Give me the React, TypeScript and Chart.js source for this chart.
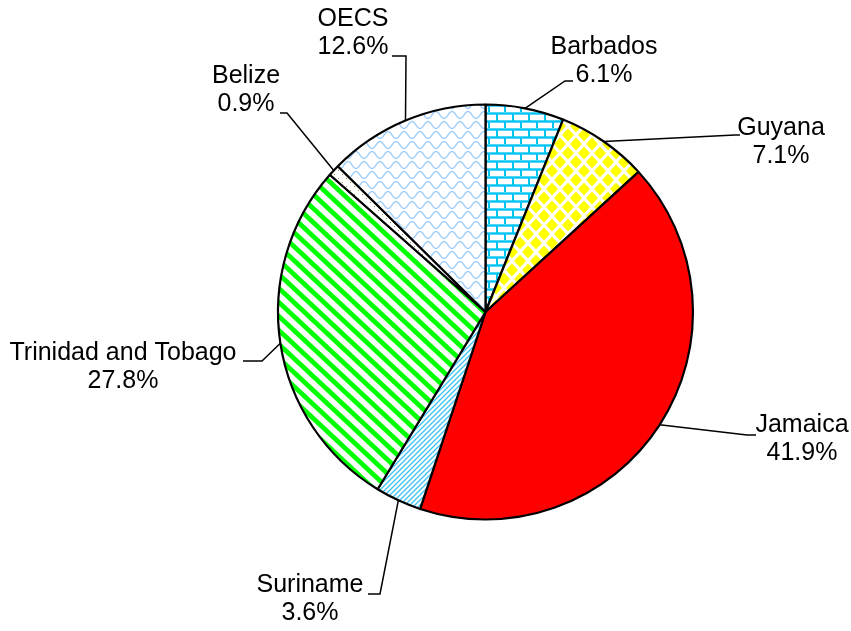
import React, { useEffect, useRef } from "react";
import { Chart, registerables } from "chart.js";

Chart.register(...registerables);

const categories = ["Barbados", "Guyana", "Jamaica", "Suriname", "Trinidad and Tobago", "Belize", "OECS"];
const shares = [6.1, 7.1, 41.9, 3.6, 27.8, 0.9, 12.6];
const percentLabels = ["6.1%", "7.1%", "41.9%", "3.6%", "27.8%", "0.9%", "12.6%"];

// Label layout (offsets from pie centre): text centre, elbow point, end point of leader
const labelLayout = [
  { tx: 118.5, ty: -265, ex: 79.5, ey: -231, lx: 87.5, ly: -231 },
  { tx: 295.5, ty: -184, ex: 249.5, ey: -177, lx: 254.5, ly: -177 },
  { tx: 316.5, ty: 113, ex: 261.5, ey: 123, lx: 270.5, ly: 123 },
  { tx: -175.5, ty: 273, ex: -105.5, ey: 282, lx: -117.5, ly: 282 },
  { tx: -362.5, ty: 41, ex: -223.5, ey: 49, lx: -242.5, ly: 49 },
  { tx: -239.5, ty: -236, ex: -198.5, ey: -199, lx: -205.5, ly: -199 },
  { tx: -132.5, ty: -293, ex: -79.5, ey: -256, lx: -93.5, ly: -256 },
];

function makePattern(w: number, h: number, draw: (c: CanvasRenderingContext2D) => void) {
  const cv = document.createElement("canvas");
  cv.width = w;
  cv.height = h;
  const c = cv.getContext("2d")!;
  c.fillStyle = "#ffffff";
  c.fillRect(0, 0, w, h);
  draw(c);
  const main = document.createElement("canvas").getContext("2d")!;
  return main.createPattern(cv, "repeat")!;
}

function buildFills() {
  const brick = makePattern(16, 16, (c) => {
    c.fillStyle = "#9be4fb";
    c.fillRect(0, 0, 16, 3);
    c.fillRect(0, 8, 16, 3);
    c.fillStyle = "#00c4f4";
    c.fillRect(0, 0.5, 16, 2);
    c.fillRect(0, 8.5, 16, 2);
    c.fillRect(0, 2, 2, 7);
    c.fillRect(8, 10, 2, 7);
  });
  const diamonds = makePattern(16, 18, (c) => {
    c.fillStyle = "#ffff00";
    const d = (x: number, y: number) => {
      c.beginPath();
      c.moveTo(x, y - 6.5);
      c.lineTo(x + 6, y);
      c.lineTo(x, y + 6.5);
      c.lineTo(x - 6, y);
      c.closePath();
      c.fill();
    };
    d(8, 9);
    d(0, 0);
    d(16, 0);
    d(0, 18);
    d(16, 18);
  });
  const fine = makePattern(5, 5, (c) => {
    c.strokeStyle = "#3cc3f5";
    c.lineWidth = 1.3;
    c.beginPath();
    c.moveTo(-1, 6);
    c.lineTo(6, -1);
    c.moveTo(-1, 1);
    c.lineTo(1, -1);
    c.moveTo(4, 6);
    c.lineTo(6, 4);
    c.stroke();
  });
  const stripes = makePattern(15, 14, (c) => {
    c.strokeStyle = "#00ff00";
    c.lineWidth = 4.8;
    c.beginPath();
    for (const [ox, oy] of [[0, 0], [-15, 0], [15, 0], [0, -14], [0, 14]]) {
      c.moveTo(ox - 15, oy - 14);
      c.lineTo(ox + 30, oy + 28);
    }
    c.stroke();
  });
  const dots = makePattern(8, 8, (c) => {
    c.fillStyle = "#a88a2c";
    c.fillRect(2, 2, 1, 1);
    c.fillRect(6, 6, 1, 1);
  });
  const scales = makePattern(16, 20, (c) => {
    c.strokeStyle = "#9fcdfb";
    c.lineWidth = 1.4;
    const row = (y0: number, shift: number) => {
      c.beginPath();
      for (let x = -16; x <= 32; x += 0.5) {
        const y = y0 + 3.5 * Math.sin(((x + shift) / 16) * Math.PI * 2);
        if (x === -16) c.moveTo(x, y);
        else c.lineTo(x, y);
      }
      c.stroke();
    };
    row(5, 0);
    row(15, 8);
    row(-5, 8);
    row(25, 0);
  });
  return [brick, diamonds, "#ff0000", fine, stripes, dots, scales];
}

const labelPlugin = {
  id: "leaderLabels",
  afterDatasetsDraw(chart: any) {
    const ctx: CanvasRenderingContext2D = chart.ctx;
    const meta = chart.getDatasetMeta(0);
    ctx.save();
    meta.data.forEach((arc: any, i: number) => {
      const { x, y, startAngle, endAngle, outerRadius } = arc.getProps(
        ["x", "y", "startAngle", "endAngle", "outerRadius"],
        true
      );
      const mid = (startAngle + endAngle) / 2;
      const px = x + Math.cos(mid) * outerRadius;
      const py = y + Math.sin(mid) * outerRadius;
      const L = labelLayout[i];
      ctx.strokeStyle = "#000000";
      ctx.lineWidth = 1.5;
      ctx.beginPath();
      ctx.moveTo(px, py);
      ctx.lineTo(x + L.ex, y + L.ey);
      ctx.lineTo(x + L.lx, y + L.ly);
      ctx.stroke();
      ctx.fillStyle = "#000000";
      ctx.font = '25px "Liberation Sans", Arial, sans-serif';
      ctx.textAlign = "center";
      ctx.textBaseline = "middle";
      ctx.fillText(categories[i], x + L.tx, y + L.ty);
      ctx.fillText(percentLabels[i], x + L.tx, y + L.ty + 28);
    });
    ctx.restore();
  },
};

export default function App() {
  const ref = useRef<HTMLCanvasElement | null>(null);
  useEffect(() => {
    if (!ref.current) return;
    const chart = new Chart(ref.current, {
      type: "pie",
      data: {
        labels: categories,
        datasets: [
          {
            data: shares,
            backgroundColor: buildFills() as any,
            borderColor: "#000000",
            borderWidth: 2.2,
          },
        ],
      },
      options: {
        responsive: false,
        animation: false,
        devicePixelRatio: 1,
        radius: 207.5,
        layout: { padding: { left: 120, right: 0, top: 0, bottom: 7 } },
        plugins: {
          legend: { display: false },
          tooltip: { enabled: false },
        },
      } as any,
      plugins: [labelPlugin],
    });
    return () => chart.destroy();
  }, []);
  return (
    <div style={{ position: "fixed", left: 0, top: 0, width: 851, height: 631, background: "#fff" }}>
      <canvas ref={ref} width={851} height={631} />
    </div>
  );
}
